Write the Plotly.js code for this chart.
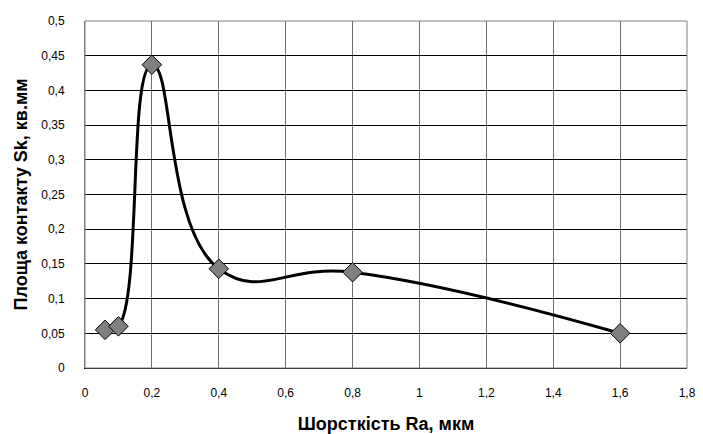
<!DOCTYPE html>
<html><head><meta charset="utf-8">
<script src="https://cdn.plot.ly/plotly-3.0.1.min.js"></script>
<style>html,body{margin:0;padding:0;background:#fff}#c{width:703px;height:434px}</style>
</head><body><div id="c"></div>
<script>
const roughness = [0.06, 0.1, 0.2, 0.4, 0.8, 1.6];
const contactArea = [0.055, 0.06, 0.437, 0.143, 0.138, 0.05];
const xTitle = 'Шорсткість Ra, мкм';
const yTitle = 'Площа контакту Sk, кв.мм';

const trace = {
  x: roughness, y: contactArea, type: 'scatter', mode: 'lines+markers',
  line: {color: '#000', width: 3, shape: 'spline', smoothing: 1.3},
  marker: {symbol: 'diamond', size: 15, color: '#808080', line: {color: '#000', width: 1}},
  hoverinfo: 'none'
};
const FONT = 'Liberation Sans, Arial, sans-serif';
const layout = {
  width: 703, height: 434,
  margin: {l: 85, r: 16, t: 21, b: 66},
  paper_bgcolor: '#fff', plot_bgcolor: '#fff',
  separators: ', ',
  showlegend: false,
  font: {family: FONT, color: '#000', size: 12},
  xaxis: {
    range: [0, 1.8], dtick: 0.2, tick0: 0,
    showgrid: true, gridcolor: '#707070', gridwidth: 1,
    zeroline: false, showline: true, linecolor: '#000', linewidth: 1, mirror: false,
    ticks: 'outside', ticklen: 14, tickcolor: 'rgba(0,0,0,0)',
    title: {text: xTitle, font: {size: 18, family: FONT, weight: 'bold'}, standoff: 18}
  },
  xaxis2: {
    overlaying: 'x', side: 'bottom', range: [0, 1.8], dtick: 0.2, tick0: 0,
    showgrid: false, zeroline: false, showline: false, showticklabels: false,
    ticks: 'outside', ticklen: 5, tickcolor: '#000'
  },
  yaxis: {
    range: [0, 0.5], dtick: 0.05, tick0: 0,
    showgrid: true, gridcolor: '#000', gridwidth: 1,
    zeroline: false, showline: true, linecolor: '#808080', linewidth: 1,
    ticks: 'outside', ticklen: 17, tickcolor: 'rgba(0,0,0,0)',
    title: {text: yTitle, font: {size: 18, family: FONT, weight: 'bold'}, standoff: 8}
  },
  yaxis2: {
    overlaying: 'y', side: 'left', range: [0, 0.5], dtick: 0.05, tick0: 0,
    showgrid: false, zeroline: false, showline: false, showticklabels: false,
    ticks: 'outside', ticklen: 5, tickcolor: '#808080'
  },
  shapes: [{type: 'rect', xref: 'paper', yref: 'paper', x0: 0, x1: 1, y0: 0, y1: 1, line: {color: '#808080', width: 1}}]
};
Plotly.newPlot('c', [trace], layout, {staticPlot: true, displayModeBar: false});
</script></body></html>
